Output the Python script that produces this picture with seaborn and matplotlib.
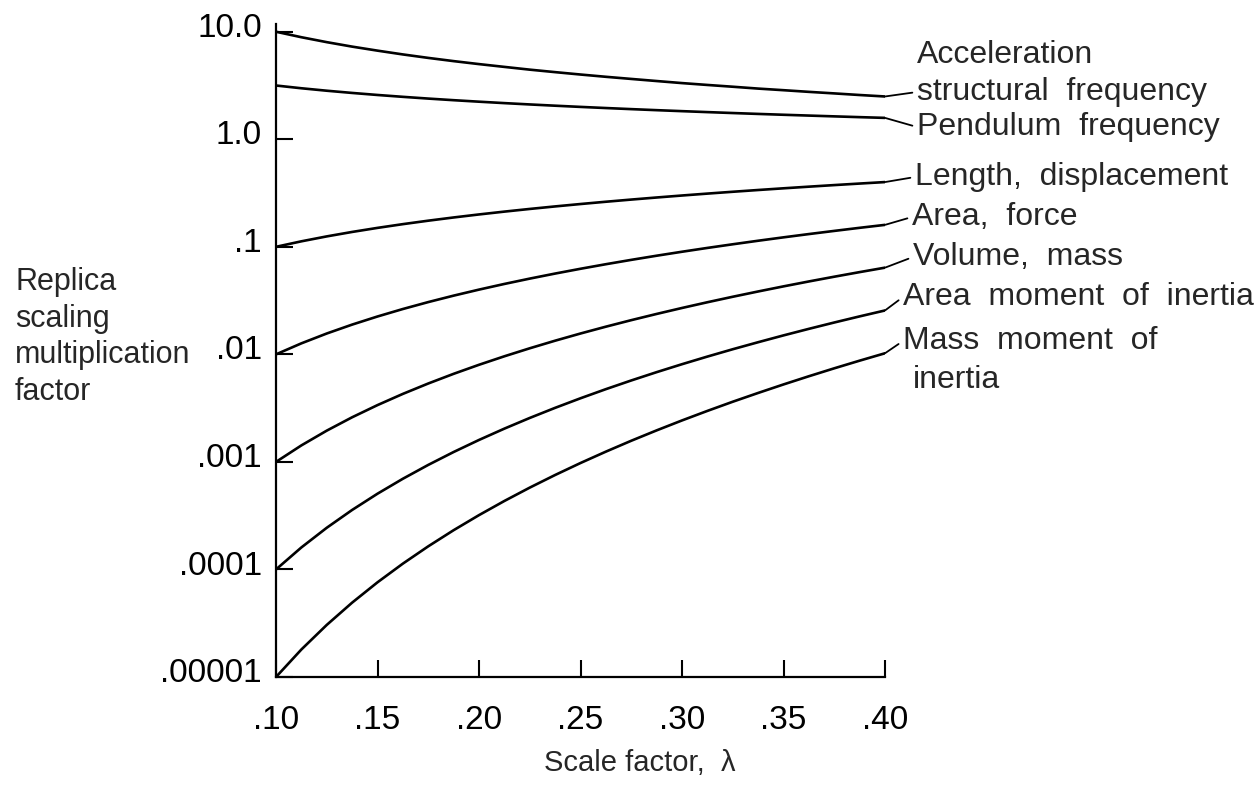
import pandas as pd
import matplotlib.pyplot as plt
import matplotlib.transforms as mtransforms
import seaborn as sns

sns.set_theme(style="ticks")
plt.rcParams['font.family'] = ['Liberation Sans', 'DejaVu Sans']

# scale factor (x) and values every .0125
scale = [0.1000, 0.1125, 0.1250, 0.1375, 0.1500, 0.1625, 0.1750, 0.1875, 0.2000,
         0.2125, 0.2250, 0.2375, 0.2500, 0.2625, 0.2750, 0.2875, 0.3000,
         0.3125, 0.3250, 0.3375, 0.3500, 0.3625, 0.3750, 0.3875, 0.4000]

acceleration = [10.0, 8.89, 8.0, 7.27, 6.67, 6.15, 5.71, 5.33, 5.0,
                4.71, 4.44, 4.21, 4.0, 3.81, 3.64, 3.48, 3.33,
                3.20, 3.08, 2.96, 2.86, 2.76, 2.67, 2.58, 2.5]
pendulum = [3.162, 2.981, 2.828, 2.697, 2.582, 2.481, 2.390, 2.309, 2.236,
            2.169, 2.108, 2.052, 2.000, 1.952, 1.907, 1.865, 1.826,
            1.789, 1.754, 1.721, 1.690, 1.661, 1.633, 1.606, 1.581]
length = [0.1000, 0.1125, 0.1250, 0.1375, 0.1500, 0.1625, 0.1750, 0.1875, 0.2000,
          0.2125, 0.2250, 0.2375, 0.2500, 0.2625, 0.2750, 0.2875, 0.3000,
          0.3125, 0.3250, 0.3375, 0.3500, 0.3625, 0.3750, 0.3875, 0.4000]
area = [0.01000, 0.01266, 0.01563, 0.01891, 0.02250, 0.02641, 0.03063, 0.03516, 0.04000,
        0.04516, 0.05063, 0.05641, 0.06250, 0.06891, 0.07563, 0.08266, 0.09000,
        0.09766, 0.1056, 0.1139, 0.1225, 0.1314, 0.1406, 0.1502, 0.1600]
volume = [0.001000, 0.001424, 0.001953, 0.002600, 0.003375, 0.004291, 0.005359, 0.006592, 0.008000,
          0.009596, 0.01139, 0.01340, 0.01563, 0.01809, 0.02080, 0.02376, 0.02700,
          0.03052, 0.03433, 0.03844, 0.04288, 0.04764, 0.05273, 0.05819, 0.06400]
area_moment = [0.0001000, 0.0001602, 0.0002441, 0.0003574, 0.0005063, 0.0006973, 0.0009379, 0.001236, 0.001600,
               0.002039, 0.002563, 0.003182, 0.003906, 0.004748, 0.005719, 0.006832, 0.008100,
               0.009537, 0.01116, 0.01297, 0.01501, 0.01727, 0.01978, 0.02255, 0.02560]
mass_moment = [0.00001000, 0.00001802, 0.00003050, 0.00004914, 0.00007594, 0.0001133, 0.0001641, 0.0002318, 0.0003200,
               0.0004333, 0.0005767, 0.0007557, 0.0009766, 0.001246, 0.001573, 0.001964, 0.002430,
               0.002980, 0.003627, 0.004377, 0.005252, 0.006260, 0.007418, 0.008738, 0.01024]

series = {
    'structural  frequency': acceleration,
    'Pendulum  frequency': pendulum,
    'Length,  displacement': length,
    'Area,  force': area,
    'Volume,  mass': volume,
    'Area  moment  of  inertia': area_moment,
    'Mass  moment  of': mass_moment,
}

# label placement in figure pixels (left x, centre y from top)
label_pos = {
    'structural  frequency': (917, 92),
    'Pendulum  frequency': (917, 127),
    'Length,  displacement': (915, 177),
    'Area,  force': (912, 217),
    'Volume,  mass': (913, 257),
    'Area  moment  of  inertia': (903, 297),
    'Mass  moment  of': (903, 341),
}

ytick_vals = [1e-5, 1e-4, 1e-3, 1e-2, 1e-1, 1.0, 10.0]
ytick_labels = ['.00001', '.0001', '.001', '.01', '.1', '1.0', '10.0']
xtick_vals = [0.10, 0.15, 0.20, 0.25, 0.30, 0.35, 0.40]
xtick_labels = ['.10', '.15', '.20', '.25', '.30', '.35', '.40']

W, H = 1257, 801
fig = plt.figure(figsize=(W / 100, H / 100), dpi=100)
ax = fig.add_axes([276 / W, 1 - 677 / H, (885 - 276) / W, (677 - 24) / H])

for name, vals in series.items():
    df = pd.DataFrame({'x': scale, 'y': vals})
    sns.lineplot(data=df, x='x', y='y', ax=ax, color='black', lw=1.9)

ax.set_yscale('log')
ax.set_xlim(0.10, 0.40)
ax.set_ylim(1e-5, 11.8)
ax.set_yticks(ytick_vals)
ax.set_yticklabels(ytick_labels)
ax.set_xticks(xtick_vals)
ax.set_xticklabels(xtick_labels)
ax.minorticks_off()
ax.tick_params(axis='y', direction='in', length=12, width=1.5, pad=10, labelsize=24, colors='black')
ax.tick_params(axis='x', direction='in', length=12, width=1.5, pad=20, labelsize=24, colors='black')
for s in ['top', 'right']:
    ax.spines[s].set_visible(False)
for s in ['left', 'bottom']:
    ax.spines[s].set_linewidth(1.6)
    ax.spines[s].set_color('black')
ax.set_xlabel('')
ax.set_ylabel('')

# y tick labels sit a little above their ticks in the original
shift = mtransforms.ScaledTranslation(0, 5 / 72, fig.dpi_scale_trans)
for lab in ax.get_yticklabels():
    lab.set_transform(lab.get_transform() + shift)

# leader lines and curve labels
for name, vals in series.items():
    px, py = label_pos[name]
    ax.annotate(name, xy=(scale[-1], vals[-1]), xycoords='data',
                xytext=(px, H - py), textcoords='figure pixels',
                ha='left', va='center', fontsize=23,
                arrowprops=dict(arrowstyle='-', color='black', lw=1.3,
                                relpos=(0, 0.5), shrinkA=1, shrinkB=0))

fig.text(917 / W, 1 - 55 / H, 'Acceleration', ha='left', va='center', fontsize=23)
fig.text(913 / W, 1 - 380 / H, 'inertia', ha='left', va='center', fontsize=23)

fig.text(15 / W, 1 - 337 / H, 'Replica\nscaling\nmultiplication\nfactor',
         ha='left', va='center', fontsize=22, linespacing=1.3)
fig.text(640 / W, 1 - 763 / H, 'Scale factor,  λ', ha='center', va='center', fontsize=21)

fig.savefig('out.png', dpi=100, facecolor='white')
